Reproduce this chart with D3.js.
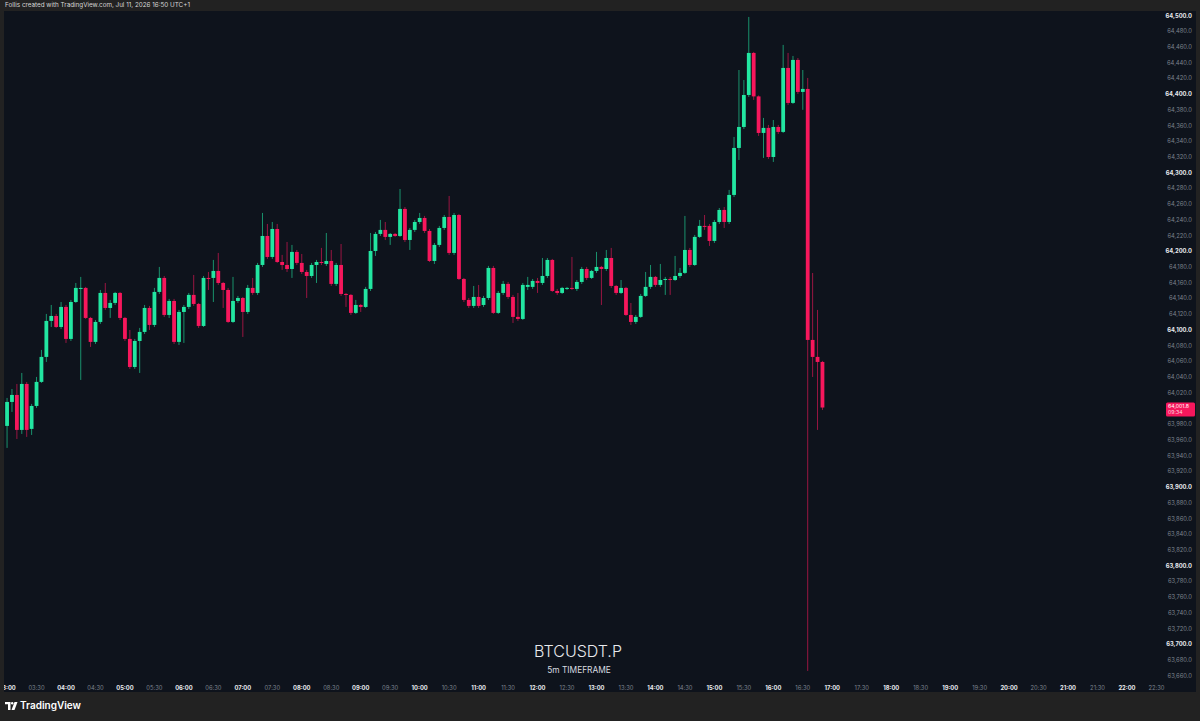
<!DOCTYPE html>
<html><head><meta charset="utf-8">
<script src="https://cdn.jsdelivr.net/npm/d3@7"></script>
<style>html,body{margin:0;padding:0;background:#222;}svg{display:block;}</style>
</head><body>
<svg id="c" width="1200" height="721"></svg>
<script>
// ---- data (BTCUSDT.P, 5m candles starting 03:00) ----
const startTime = "2026-07-11T03:00";
const opens = [
63978.4,64008.9,64017.8,63973.3,64031.8,63974.6,64003.8,64034.4,64066.2,64112.0,
64118.3,64104.3,64129.8,64089.1,64136.1,64152.7,64154.0,64115.8,64085.3,64110.7,
64147.6,64128.5,64134.9,64147.6,64115.8,64089.1,64053.4,64086.5,64098.0,64128.5,
64106.9,64148.9,64166.7,64119.6,64137.4,64085.3,64123.4,64129.8,64145.1,64133.6,
64105.6,64166.7,64166.7,64175.6,64160.3,64151.4,64110.7,64137.4,64141.2,64123.4,
64154.0,64147.6,64183.2,64220.1,64193.4,64229.0,64187.0,64183.2,64178.1,64199.8,
64185.8,64174.3,64169.2,64183.2,64187.0,64184.5,64188.3,64159.1,64183.2,64146.3,
64145.1,64122.2,64132.3,64129.8,64152.7,64201.0,64222.7,64227.8,64218.9,64222.7,
64220.1,64254.5,64215.0,64227.8,64237.9,64243.0,64226.5,64188.3,64208.7,64230.3,
64244.3,64198.5,64246.8,64165.4,64138.7,64131.1,64142.5,64132.3,64141.2,64179.4,
64122.2,64147.6,64159.1,64142.5,64117.1,64114.5,64155.3,64155.3,64162.9,64160.3,
64169.2,64189.6,64150.1,64147.6,64152.7,64154.0,64152.7,64161.6,64178.1,64166.7,
64175.6,64180.7,64178.1,64192.1,64156.5,64147.6,64154.0,64119.6,64110.7,64117.1,
64143.8,64155.3,64168.0,64157.8,64164.1,64165.4,64164.1,64169.2,64173.1,64202.3,
64183.2,64218.9,64232.9,64232.9,64213.8,64237.9,64253.2,64237.9,64272.3,64332.1,
64358.8,64399.5,64453.0,64397.7,64351.2,64357.6,64320.6,64358.8,64352.5,64433.9,
64389.4,64444.1,64403.4,64407.2,64087.8,64066.2,64059.8];
const highs = [
64014.0,64025.4,64031.8,64045.8,64034.3,64006.4,64040.7,64075.1,64120.9,64132.3,
64120.9,64136.1,64132.3,64138.7,64160.3,64168.0,64155.3,64117.1,64113.2,64151.4,
64160.3,64138.7,64148.9,64148.9,64117.1,64100.5,64089.1,64103.1,64132.3,64131.1,
64154.0,64180.7,64169.2,64140.0,64140.0,64126.0,64132.3,64147.6,64170.5,64134.9,
64169.2,64174.3,64189.6,64198.5,64161.6,64154.0,64168.0,64143.8,64142.5,64157.8,
64166.7,64185.8,64249.4,64235.4,64237.9,64235.4,64196.0,64212.5,64208.7,64202.3,
64197.2,64176.9,64185.8,64189.6,64204.9,64223.9,64202.3,64185.8,64209.9,64147.6,
64146.3,64138.7,64133.6,64155.3,64223.9,64225.2,64240.5,64237.9,64223.9,64223.9,
64279.9,64257.0,64230.3,64240.5,64249.4,64245.6,64229.0,64211.2,64232.9,64246.8,
64271.0,64249.4,64248.1,64166.7,64141.2,64156.5,64157.8,64143.8,64182.0,64182.0,
64150.1,64162.9,64161.6,64145.1,64147.6,64160.3,64168.0,64165.4,64166.7,64192.1,
64192.1,64190.9,64152.7,64155.3,64155.3,64193.4,64164.1,64180.7,64180.7,64176.9,
64199.8,64182.0,64202.3,64204.9,64157.8,64164.1,64155.3,64134.9,64119.6,64146.3,
64174.3,64183.2,64169.2,64184.5,64168.0,64168.0,64194.7,64179.4,64245.6,64204.9,
64221.4,64240.5,64246.8,64235.4,64240.5,64255.7,64257.0,64278.7,64346.1,64431.3,
64418.6,64498.8,64454.3,64398.9,64370.3,64361.4,64367.7,64361.4,64463.2,64453.0,
64449.2,64446.6,64431.3,64421.2,64173.0,64126.0,64061.1];
const lows = [
63950.4,63996.2,63961.8,63968.2,63964.4,63966.9,64001.3,64033.1,64059.8,64104.3,
64103.1,64101.8,64084.0,64086.5,64134.9,64036.9,64114.5,64078.9,64082.7,64108.2,
64126.0,64115.8,64132.3,64113.2,64086.5,64050.9,64050.9,64045.8,64095.4,64100.5,
64104.3,64146.3,64117.1,64115.8,64082.7,64081.4,64084.0,64127.2,64131.1,64103.1,
64104.3,64151.4,64136.1,64157.8,64128.5,64109.4,64109.4,64134.9,64091.6,64120.9,
64145.1,64145.1,64180.7,64190.9,64190.9,64185.8,64176.9,64174.3,64166.7,64183.2,
64171.8,64141.2,64166.7,64160.3,64183.2,64182.0,64156.5,64156.5,64143.8,64129.8,
64119.6,64120.9,64123.4,64128.5,64150.1,64194.7,64220.1,64215.0,64208.7,64218.9,
64218.9,64212.5,64202.3,64225.2,64235.4,64223.9,64187.0,64184.5,64206.1,64227.8,
64196.0,64196.0,64164.1,64136.1,64128.5,64128.5,64128.5,64129.8,64138.7,64120.9,
64120.9,64145.1,64140.0,64109.4,64112.0,64113.2,64151.4,64152.7,64147.6,64157.8,
64166.7,64148.9,64145.1,64146.3,64151.4,64151.4,64150.1,64159.1,64164.1,64165.4,
64173.1,64132.3,64175.6,64154.0,64145.1,64146.3,64118.3,64106.9,64108.2,64115.8,
64142.5,64152.7,64155.3,64155.3,64145.1,64145.1,64162.9,64166.7,64171.8,64180.7,
64182.0,64217.6,64227.8,64207.4,64211.2,64235.4,64230.3,64235.4,64269.7,64316.8,
64356.3,64397.0,64393.2,64347.4,64319.4,64318.1,64314.3,64349.9,64351.2,64386.8,
64388.1,64400.8,64380.6,63666.6,64040.7,63973.3,63998.7];
const closes = [
64008.9,64017.8,63973.3,64031.8,63973.3,64003.8,64034.4,64066.2,64112.0,64118.3,
64104.3,64129.8,64089.1,64136.1,64154.0,64154.0,64115.8,64085.3,64110.7,64147.6,
64128.5,64134.9,64147.6,64115.8,64089.1,64053.4,64086.5,64098.0,64128.5,64106.9,
64148.9,64166.7,64119.6,64137.4,64085.3,64123.4,64129.8,64145.1,64133.6,64105.6,
64166.7,64165.4,64175.6,64160.3,64151.4,64110.7,64137.4,64141.2,64123.4,64154.0,
64147.6,64183.2,64220.1,64193.4,64229.0,64187.0,64183.2,64178.1,64199.8,64185.8,
64174.3,64169.2,64183.2,64187.0,64185.8,64188.3,64159.1,64183.2,64146.3,64145.1,
64122.2,64132.3,64129.8,64152.7,64201.0,64222.7,64227.8,64218.9,64222.7,64220.1,
64254.5,64215.0,64227.8,64237.9,64243.0,64226.5,64188.3,64208.7,64230.3,64244.3,
64198.5,64246.8,64165.4,64138.7,64131.1,64142.5,64131.1,64141.2,64179.4,64122.2,
64147.6,64159.1,64142.5,64117.1,64114.5,64157.8,64157.8,64162.9,64160.3,64169.2,
64189.6,64150.1,64147.6,64154.0,64154.0,64153.5,64161.6,64178.1,64166.7,64175.6,
64180.7,64178.1,64192.1,64156.5,64147.6,64154.0,64119.6,64110.7,64117.1,64143.8,
64155.3,64168.0,64157.8,64164.1,64165.4,64164.8,64169.2,64173.1,64202.3,64183.2,
64218.9,64232.9,64232.2,64213.8,64237.9,64253.2,64237.9,64272.3,64332.1,64358.8,
64399.5,64453.0,64397.7,64351.2,64357.6,64320.6,64358.8,64352.5,64433.9,64389.4,
64444.1,64403.4,64407.2,64087.8,64066.2,64059.8,64001.8];
const yTicks = d3.range(63660, 64501, 20);
const xTickStart = "2026-07-11T03:00", xTickEnd = "2026-07-11T22:30";
const lastPriceLabel = "64,001.8", countdownLabel = "09:34";
const headerText = "Follis created with TradingView.com, Jul 11, 2026 16:50 UTC+1";
const symbolText = "BTCUSDT.P", tfText = "5m TIMEFRAME";

// ---- layout ----
const W = 1200, H = 721;
const pane = {x0: 4, y0: 11, x1: 1196, y1: 692};
const UP = "#22e6a1", DOWN = "#f6175c", BG = "#0e131c", FRAME = "#222222";
const FONT = "Inter, 'Noto Sans', sans-serif";

const parse = d3.timeParse("%Y-%m-%dT%H:%M");
const t0 = parse(startTime);
const candles = opens.map((o, i) => ({
  t: d3.timeMinute.offset(t0, 5 * i), o, h: highs[i], l: lows[i], c: closes[i]
}));

const x = d3.scaleTime()
  .domain([parse("2026-07-11T04:00"), parse("2026-07-11T22:00")])
  .range([66, 1127]);
const y = d3.scaleLinear().domain([63700, 64500]).range([644.7, 16.0]);

const svg = d3.select("#c");
svg.append("rect").attr("width", W).attr("height", H).attr("fill", FRAME);
svg.append("rect").attr("x", pane.x0).attr("y", pane.y0)
  .attr("width", pane.x1 - pane.x0).attr("height", pane.y1 - pane.y0).attr("fill", BG);

svg.append("defs").append("clipPath").attr("id", "clip").append("rect")
  .attr("x", pane.x0).attr("y", pane.y0)
  .attr("width", pane.x1 - pane.x0).attr("height", pane.y1 - pane.y0);

// header
svg.append("text").attr("x", 5).attr("y", 5.5).attr("dominant-baseline", "middle")
  .attr("font-family", FONT).attr("font-size", 6.3).attr("fill", "#d6d6d6").text(headerText);

const g = svg.append("g").attr("clip-path", "url(#clip)");

// watermark
g.append("text").attr("x", 578).attr("y", 657).attr("text-anchor", "middle")
  .attr("font-family", FONT).attr("font-size", 16).attr("font-weight", 300)
  .attr("fill", "#e8eaee").text(symbolText);
g.append("text").attr("x", 579).attr("y", 673).attr("text-anchor", "middle")
  .attr("font-family", FONT).attr("font-size", 8.4).attr("fill", "#d8dbe0").text(tfText);

// candles
const bw = 3.8;
const cg = g.append("g");
cg.selectAll("line.w").data(candles).join("line")
  .attr("class", "w")
  .attr("x1", d => x(d.t)).attr("x2", d => x(d.t))
  .attr("y1", d => y(d.h)).attr("y2", d => y(d.l))
  .attr("stroke", d => d.c >= d.o ? UP : DOWN)
  .attr("stroke-width", 1).attr("stroke-opacity", 0.6);
cg.selectAll("rect.b").data(candles).join("rect")
  .attr("class", "b")
  .attr("x", d => x(d.t) - bw / 2)
  .attr("y", d => y(Math.max(d.o, d.c)))
  .attr("width", bw)
  .attr("height", d => Math.max(1, Math.abs(y(d.o) - y(d.c))))
  .attr("fill", d => d.c >= d.o ? UP : DOWN);

// y axis labels
const fmt = d3.format(",.1f");
const last = candles[candles.length - 1];
const ly = y(last.c);
g.append("g").selectAll("text").data(yTicks.filter(d => Math.abs(y(d) - (ly + 1.5)) > 8)).join("text")
  .attr("x", 1192).attr("y", d => y(d)).attr("text-anchor", "end")
  .attr("dominant-baseline", "middle").attr("font-family", FONT)
  .attr("font-size", 5.8)
  .attr("font-weight", d => d % 100 === 0 ? 700 : 400)
  .attr("fill", d => d % 100 === 0 ? "#e6e8ec" : "#7d838e")
  .text(d => fmt(d));

// last price label
g.append("rect").attr("x", 1166).attr("y", ly - 5).attr("width", 29).attr("height", 14)
  .attr("rx", 1.5).attr("fill", DOWN);
g.append("text").attr("x", 1168).attr("y", ly - 1.3).attr("dominant-baseline", "middle")
  .attr("font-family", FONT).attr("font-size", 5.2).attr("fill", "#ffffff").text(lastPriceLabel);
g.append("text").attr("x", 1168).attr("y", ly + 5.4).attr("dominant-baseline", "middle")
  .attr("font-family", FONT).attr("font-size", 5.2).attr("fill", "#ffd3df").text(countdownLabel);

// x axis labels
const xTicks = d3.timeMinute.every(30).range(parse(xTickStart), d3.timeMinute.offset(parse(xTickEnd), 1));
const tf = d3.timeFormat("%H:%M");
g.append("g").selectAll("text").data(xTicks).join("text")
  .attr("x", d => x(d)).attr("y", 688).attr("text-anchor", "middle")
  .attr("dominant-baseline", "middle").attr("font-family", FONT).attr("font-size", 5.8)
  .attr("font-weight", d => d.getMinutes() === 0 ? 700 : 400)
  .attr("fill", d => d.getMinutes() === 0 ? "#e6e8ec" : "#7d838e")
  .text(d => tf(d));

// footer logo
const logo = svg.append("g").attr("transform", "translate(5,702)");
logo.append("path").attr("d", "M0,0 H5.5 V8 H3 V2.3 H0 Z").attr("fill", "#ffffff");
logo.append("circle").attr("cx", 7.2).attr("cy", 1.2).attr("r", 1.2).attr("fill", "#ffffff");
logo.append("path").attr("d", "M9.5,0 H12.5 L9.5,8 H6.5 Z").attr("fill", "#ffffff");
svg.append("text").attr("x", 20).attr("y", 706.5).attr("dominant-baseline", "middle")
  .attr("font-family", FONT).attr("font-size", 10).attr("font-weight", 600)
  .attr("fill", "#ffffff").text("TradingView");
</script>
</body></html>
